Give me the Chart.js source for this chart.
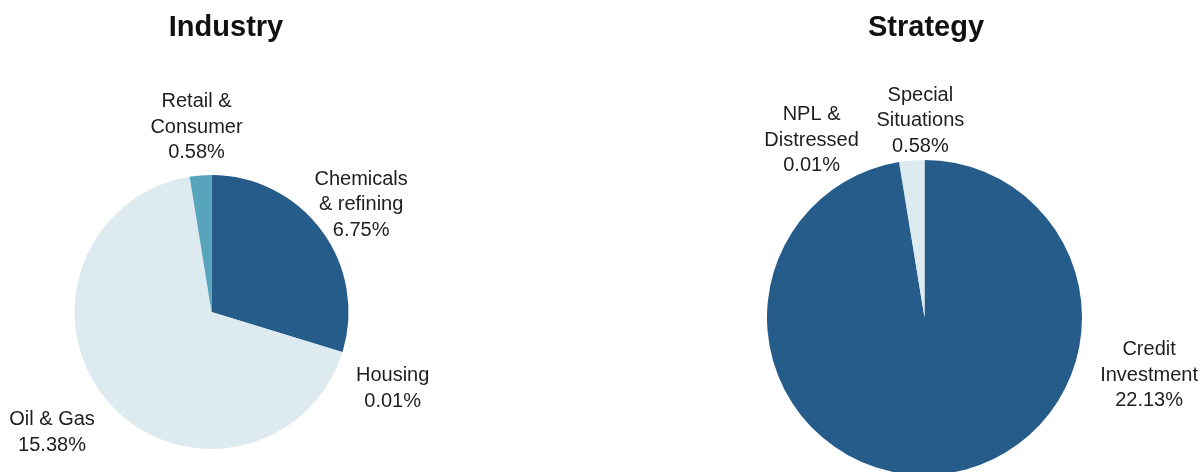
<!DOCTYPE html>
<html>
<head>
<meta charset="utf-8">
<script src="https://cdn.jsdelivr.net/npm/chart.js@4.4.1/dist/chart.umd.min.js"></script>
<style>
    html, body { margin: 0; padding: 0; background: #fff; overflow: hidden; }
    #wrap { position: relative; width: 1201px; height: 472px; overflow: hidden; }
    canvas { position: absolute; top: 0; }
    #industryChart { left: 0; }
    #strategyChart { left: 600px; }
</style>
</head>
<body>
<div id="wrap">
    <canvas id="industryChart" width="600" height="480"></canvas>
    <canvas id="strategyChart" width="601" height="480"></canvas>
</div>
<script>
// Industry breakdown (%)
const industryLabels = [['Chemicals', '& refining'], ['Housing'], ['Oil & Gas'], ['Retail &', 'Consumer']];
const industryValues = [6.75, 0.01, 15.38, 0.58];

// Strategy breakdown (%)
const strategyLabels = [['Credit', 'Investment'], ['NPL &', 'Distressed'], ['Special', 'Situations']];
const strategyValues = [22.13, 0.01, 0.58];

const DARK = '#255c8a';
const LIGHT = '#ddebf1';
const TEAL = '#57a4bc';
const MID = '#3d7fa8';

// label placement: angle nudge (deg) and gap from the pie edge (px)
const industryLabelShift = [0.5, 5.4, 4.3, 0];
const industryLabelGap = [48, 59, 62, 50];
const strategyLabelShift = [-71.3, -23, 3.4];
const strategyLabelGap = [74, 54, 41];

const pieLabels = {
    id: 'pieLabels',
    afterDatasetsDraw(chart, args, opts) {
        const ctx = chart.ctx;
        const meta = chart.getDatasetMeta(0);
        const values = chart.data.datasets[0].data;
        const lineH = 25.5;
        const cap = 14.3;
        ctx.save();
        ctx.fillStyle = '#1e1e1e';
        ctx.textAlign = 'center';
        ctx.textBaseline = 'alphabetic';
        ctx.font = '20px "Liberation Sans", Arial, sans-serif';
        meta.data.forEach((arc, i) => {
            const p = arc.getProps(['x', 'y', 'startAngle', 'endAngle', 'outerRadius'], true);
            const mid = (p.startAngle + p.endAngle) / 2 + opts.shift[i] * Math.PI / 180;
            const d = p.outerRadius + opts.gap[i];
            const cx = p.x + Math.cos(mid) * d;
            const cy = p.y + Math.sin(mid) * d;
            const lines = chart.data.labels[i].concat([values[i].toFixed(2) + '%']);
            const first = cy - ((lines.length - 1) * lineH - cap) / 2;
            lines.forEach((t, k) => ctx.fillText(t, cx, first + k * lineH));
        });
        // title
        ctx.font = 'bold 29px "Liberation Sans", Arial, sans-serif';
        ctx.fillStyle = '#111';
        ctx.fillText(opts.title, opts.titleX, 36);
        ctx.restore();
    }
};

function makePie(id, labels, values, colors, padding, labelOpts) {
    return new Chart(document.getElementById(id), {
        type: 'pie',
        data: {
            labels: labels,
            datasets: [{
                data: values,
                backgroundColor: colors,
                borderWidth: 0
            }]
        },
        options: {
            responsive: false,
            animation: false,
            layout: { padding: padding },
            plugins: {
                legend: { display: false },
                tooltip: { enabled: false },
                pieLabels: labelOpts
            }
        },
        plugins: [pieLabels]
    });
}

makePie('industryChart', industryLabels, industryValues, [DARK, MID, LIGHT, TEAL],
    { left: 74.5, top: 175, right: 251.5, bottom: 31 },
    { shift: industryLabelShift, gap: industryLabelGap, title: 'Industry', titleX: 226 });

makePie('strategyChart', strategyLabels, strategyValues, [DARK, MID, LIGHT],
    { left: 167, top: 160, right: 119, bottom: 5 },
    { shift: strategyLabelShift, gap: strategyLabelGap, title: 'Strategy', titleX: 326 });
</script>
</body>
</html>
